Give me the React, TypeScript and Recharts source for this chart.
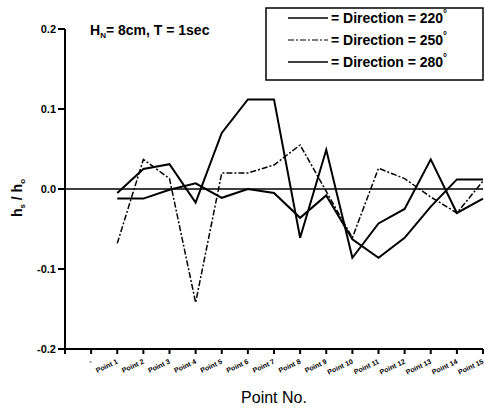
import React from 'react';
import { LineChart, Line, XAxis, YAxis, ReferenceLine } from 'recharts';

document.body.style.margin = '0';

const points = [1, 2, 3, 4, 5, 6, 7, 8, 9, 10, 11, 12, 13, 14, 15];
const dir220 = [-0.005, 0.025, 0.031, -0.017, 0.07, 0.112, 0.112, -0.061, 0.049, -0.086, -0.043, -0.025, 0.037, -0.03, -0.012];
const dir250 = [-0.068, 0.037, 0.013, -0.142, 0.02, 0.02, 0.03, 0.055, -0.003, -0.061, 0.026, 0.013, -0.01, -0.03, 0.01];
const dir280 = [-0.012, -0.012, -0.001, 0.007, -0.011, 0.0, -0.005, -0.036, -0.008, -0.063, -0.086, -0.061, -0.022, 0.012, 0.012];

const xTicks = [-1, 0, 1, 2, 3, 4, 5, 6, 7, 8, 9, 10, 11, 12, 13, 14, 15];
const yTicks = [-0.2, -0.1, 0, 0.1, 0.2];

const data = points.map((p, i) => ({ x: p, d220: dir220[i], d250: dir250[i], d280: dir280[i] }));

const font = '"Liberation Sans", Arial, sans-serif';

const xLabel = (v: number) => (v < 0 ? '' : v === 0 ? '-' : 'Point ' + v);

const XTick = (props: any) => {
  const { x, y, payload } = props;
  return (
    <g transform={`translate(${x},${y})`}>
      <text x={-2} y={7} textAnchor="end" fontSize={7} fontWeight="bold" fontFamily={font}
        fill="#000" transform="rotate(-25)">
        {xLabel(payload.value)}
      </text>
    </g>
  );
};

export default function App() {
  return (
    <div style={{ position: 'relative', width: 484, height: 410, background: '#fff' }}>
      <LineChart width={484} height={410} data={data} margin={{ top: 29, right: 1, left: 0, bottom: 0 }}>
        <XAxis dataKey="x" type="number" domain={[-1, 15]} ticks={xTicks} interval={0}
          stroke="#000" strokeWidth={2} tickSize={5} height={61} tick={<XTick />} />
        <YAxis type="number" domain={[-0.2, 0.2]} ticks={yTicks} width={65}
          tickFormatter={(v: number) => v.toFixed(1)}
          stroke="#000" strokeWidth={2} tickSize={7}
          tick={{ fill: '#000', fontSize: 11, fontWeight: 'bold', fontFamily: font }} />
        <ReferenceLine y={0} stroke="#000" strokeWidth={1.5} />
        <Line dataKey="d220" stroke="#000" strokeWidth={2} dot={false} isAnimationActive={false} type="linear" />
        <Line dataKey="d250" stroke="#000" strokeWidth={1.5} strokeDasharray="6 2 2 2" dot={false} isAnimationActive={false} type="linear" />
        <Line dataKey="d280" stroke="#000" strokeWidth={2} dot={false} isAnimationActive={false} type="linear" />
      </LineChart>
      <svg width={484} height={410} style={{ position: 'absolute', left: 0, top: 0, pointerEvents: 'none' }}
        fontFamily={font}>
        <text x={90} y={35} fontSize={14} fontWeight="bold">
          H<tspan fontSize={8} dy={3}>N</tspan><tspan dy={-3}>= 8cm, T = 1sec</tspan>
        </text>
        <rect x={266} y={8} width={217} height={72} fill="#fff" stroke="#000" strokeWidth={1.5} />
        {[
          { dash: undefined, label: '220', y: 18 },
          { dash: '6 2 2 2', label: '250', y: 40 },
          { dash: undefined, label: '280', y: 62 },
        ].map((r) => (
          <g key={r.label}>
            <line x1={288} x2={328} y1={r.y} y2={r.y} stroke="#000" strokeWidth={r.dash ? 1.2 : 1.5} strokeDasharray={r.dash} />
            <text x={331} y={r.y + 5} fontSize={14} fontWeight="bold">
              = Direction = {r.label}<tspan dy={-6} fontSize={10}>°</tspan>
            </text>
          </g>
        ))}
        <text transform="translate(22,198) rotate(-90)" textAnchor="middle" fontSize={14} fontWeight="bold">
          h<tspan fontSize={8} dy={3}>s</tspan><tspan dy={-3}> / h</tspan><tspan fontSize={8} dy={3}>o</tspan>
        </text>
        <text x={274} y={403} textAnchor="middle" fontSize={16}>Point No.</text>
      </svg>
    </div>
  );
}
